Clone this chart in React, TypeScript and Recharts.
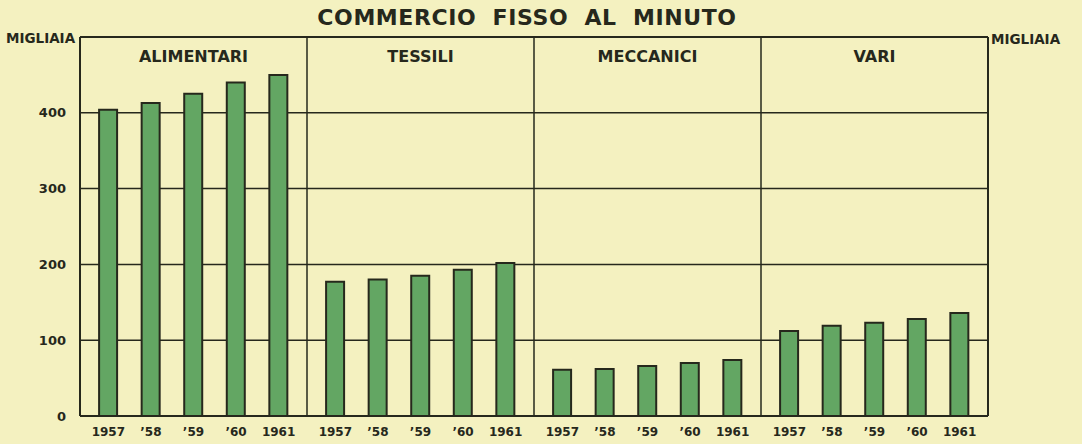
import React from "react";
import {
  BarChart,
  Bar,
  XAxis,
  YAxis,
  CartesianGrid,
  ReferenceLine,
} from "recharts";

const groups = ["ALIMENTARI", "TESSILI", "MECCANICI", "VARI"];
const years = ["1957", "’58", "’59", "’60", "1961"];
const alimentari = [404, 413, 425, 440, 450];
const tessili = [177, 180, 185, 193, 202];
const meccanici = [61, 62, 66, 70, 74];
const vari = [112, 119, 123, 128, 136];
const yTicks = [0, 100, 200, 300, 400];

const BG = "#F4F1C0";
const INK = "#26281c";
const GREEN = "#63A663";
const FONT = "'DejaVu Sans', sans-serif";

// each group takes one unit on the x axis, bars spaced 3/16 apart around its middle
const seriesByGroup = [alimentari, tessili, meccanici, vari];
const data = seriesByGroup.flatMap((vals, g) =>
  vals.map((v, i) => ({
    x: g + 0.5 + (i - 2) * 0.1875,
    v,
    year: years[i],
  }))
);
const xTicks = data.map((d) => d.x);

const LeftTick = (props: any) => {
  const { x, y, payload } = props;
  return (
    <text
      x={x}
      y={y}
      textAnchor="end"
      dominantBaseline="central"
      fill={INK}
      fontFamily={FONT}
      fontWeight="bold"
      fontSize={13}
    >
      {payload.value}
    </text>
  );
};

const RightTick = (props: any) => {
  const { x, y, payload } = props;
  return (
    <text
      x={x + 13}
      y={y}
      textAnchor="middle"
      dominantBaseline="central"
      fill={INK}
      fontFamily={FONT}
      fontWeight="bold"
      fontSize={12.5}
    >
      {payload.value}
    </text>
  );
};

const YearTick = (props: any) => {
  const { x, y, index } = props;
  return (
    <text
      x={x}
      y={y}
      textAnchor="middle"
      dominantBaseline="central"
      fill={INK}
      fontFamily={FONT}
      fontWeight="bold"
      fontSize={12}
    >
      {years[index % years.length]}
    </text>
  );
};

export default function App() {
  return (
    <div
      style={{
        position: "absolute",
        left: 0,
        top: 0,
        width: 1082,
        height: 444,
        background: BG,
        fontFamily: FONT,
        color: INK,
      }}
    >
      {/* title and unit labels */}
      <div
        style={{
          position: "absolute",
          left: 0,
          width: 1054,
          top: 5,
          textAlign: "center",
          fontSize: 22,
          fontWeight: "bold",
          letterSpacing: 0.6,
          wordSpacing: 8,
        }}
      >
        COMMERCIO FISSO AL MINUTO
      </div>
      <div style={{ position: "absolute", left: 6, top: 30, fontSize: 13.5, fontWeight: "bold" }}>
        MIGLIAIA
      </div>
      <div style={{ position: "absolute", left: 991, top: 31, fontSize: 13.5, fontWeight: "bold" }}>
        MIGLIAIA
      </div>

      <BarChart
        width={1082}
        height={444}
        data={data}
        margin={{ top: 37, left: 20, right: 34, bottom: 0 }}
      >
        <CartesianGrid
          yAxisId="left"
          horizontal
          vertical={false}
          stroke={INK}
          strokeWidth={1.5}
        />
        <XAxis
          dataKey="x"
          type="number"
          domain={[0, 4]}
          ticks={xTicks}
          interval={0}
          height={28}
          tickLine={false}
          tickSize={0}
          tickMargin={16}
          tick={<YearTick />}
          axisLine={{ stroke: INK, strokeWidth: 2 }}
        />
        <YAxis
          yAxisId="left"
          domain={[0, 500]}
          ticks={yTicks}
          width={60}
          tickLine={false}
          tickSize={0}
          tickMargin={14}
          tick={<LeftTick />}
          axisLine={{ stroke: INK, strokeWidth: 2 }}
        />
        <YAxis
          yAxisId="right"
          orientation="right"
          domain={[0, 500]}
          ticks={yTicks}
          width={60}
          tickLine={false}
          tickSize={0}
          tickMargin={24}
          tick={<RightTick />}
          axisLine={{ stroke: INK, strokeWidth: 2 }}
        />
        <ReferenceLine yAxisId="left" y={500} stroke={INK} strokeWidth={2} />
        {[1, 2, 3].map((g) => (
          <ReferenceLine key={g} yAxisId="left" x={g} stroke={INK} strokeWidth={1.5} />
        ))}
        {/* group names, placed at the middle of each group */}
        {groups.map((name, g) => (
          <ReferenceLine
            key={name}
            yAxisId="left"
            x={g + 0.5}
            stroke="none"
            label={{
              value: name,
              position: "insideTop",
              offset: 14,
              fill: INK,
              fontFamily: FONT,
              fontWeight: "bold",
              fontSize: 16,
            }}
          />
        ))}
        <Bar
          yAxisId="left"
          dataKey="v"
          barSize={18}
          fill={GREEN}
          stroke={INK}
          strokeWidth={2}
          isAnimationActive={false}
        />
      </BarChart>
    </div>
  );
}
